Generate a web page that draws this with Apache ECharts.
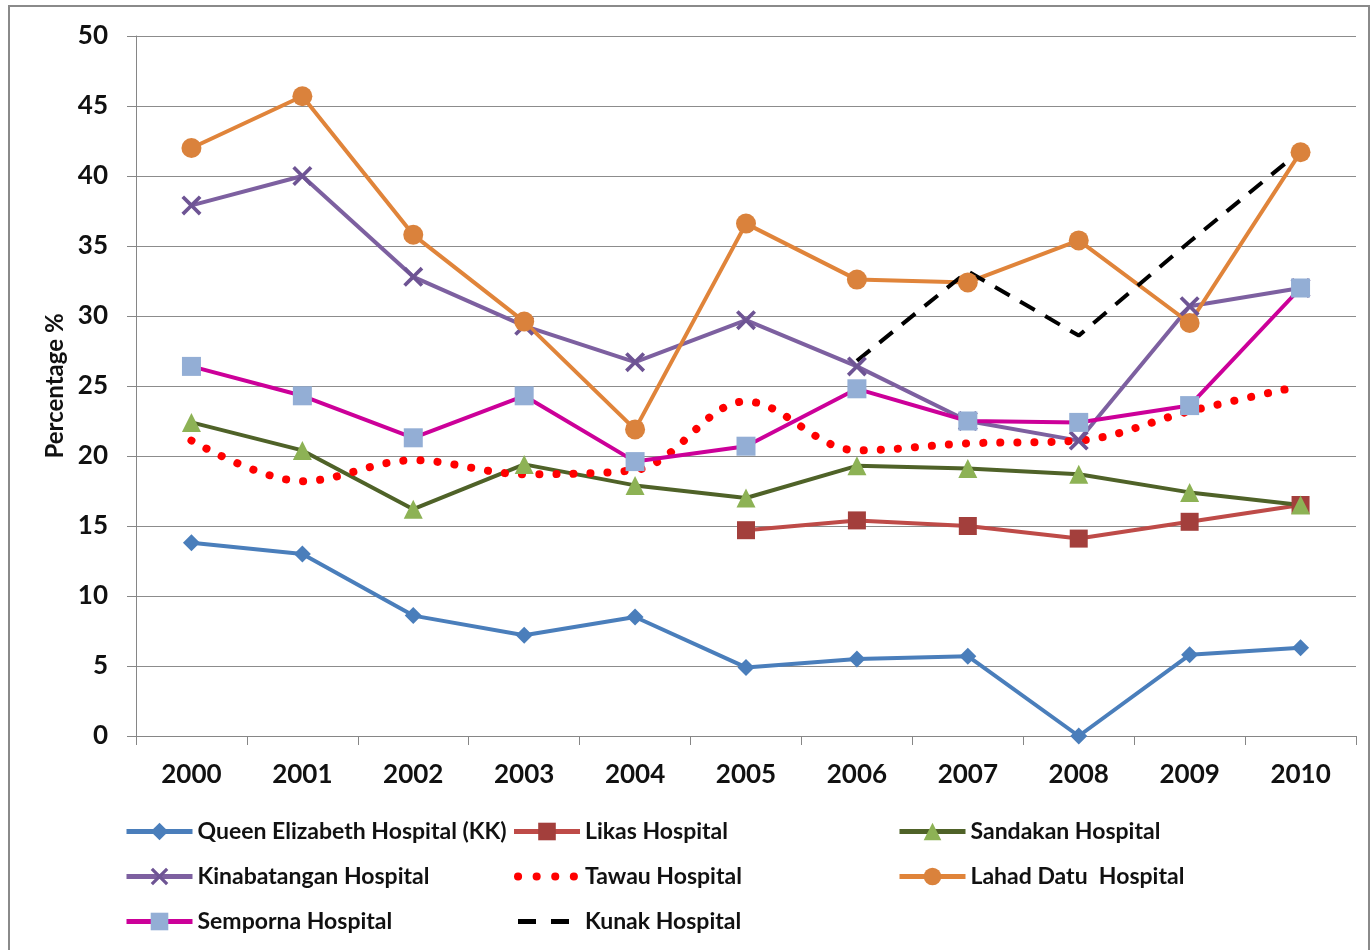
<!DOCTYPE html>
<html>
<head>
<meta charset="utf-8">
<title>Hospital percentage 2000-2010</title>
<script src="https://cdn.jsdelivr.net/npm/echarts@6/dist/echarts.min.js"></script>
<style>
  html, body { margin: 0; padding: 0; background: #fff; }
  #chart { width: 1372px; height: 950px; }
</style>
</head>
<body>
<div id="chart"></div>
<script>
const years = ['2000', '2001', '2002', '2003', '2004', '2005', '2006', '2007', '2008', '2009', '2010']

const queenElizabeth = [13.8, 13.0, 8.6, 7.2, 8.5, 4.9, 5.5, 5.7, 0.0, 5.8, 6.3]
const likas = [null, null, null, null, null, 14.7, 15.4, 15.0, 14.1, 15.3, 16.5]
const sandakan = [22.4, 20.4, 16.2, 19.4, 17.9, 17.0, 19.3, 19.1, 18.7, 17.4, 16.5]
const kinabatangan = [37.9, 40.0, 32.8, 29.3, 26.7, 29.7, 26.4, 22.5, 21.1, 30.7, 32.0]
const tawau = [21.1, 18.2, 19.7, 18.7, 19.0, 23.9, 20.4, 20.9, 21.1, 23.2, 25.0]
const lahadDatu = [42.0, 45.7, 35.8, 29.6, 21.9, 36.6, 32.6, 32.4, 35.4, 29.5, 41.7]
const semporna = [26.4, 24.3, 21.3, 24.3, 19.6, 20.7, 24.8, 22.5, 22.4, 23.6, 32.0]
const kunak = [null, null, null, null, null, null, 26.8, 33.2, 28.6, 35.3, 41.8]

const crossPath = 'path://M0,1.3L1.3,0L5,3.7L8.7,0L10,1.3L6.3,5L10,8.7L8.7,10L5,6.3L1.3,10L0,8.7L3.7,5Z'
const font = 'Lato, "DejaVu Sans", sans-serif'

const chart = echarts.init(document.getElementById('chart'))

const mkSeries = (name, data, opts) => ({
  name,
  type: 'line',
  data,
  connectNulls: false,
  symbolSize: opts.size || 18,
  symbol: opts.symbol,
  showSymbol: opts.symbol !== 'none',
  smooth: opts.smooth || false,
  lineStyle: {
    color: opts.line,
    width: opts.width || 4,
    type: opts.type || 'solid',
    cap: opts.cap || 'butt',
  },
  itemStyle: { color: opts.marker || opts.line, borderWidth: 0 },
  emphasis: { disabled: true },
  animation: false,
})

const legendText = { fontFamily: font, fontWeight: 'bold', fontSize: 23, color: '#111' }
const legendBase = {
  orient: 'vertical',
  top: 820,
  padding: 0,
  itemWidth: 66,
  itemHeight: 22,
  itemGap: 22,
  textStyle: legendText,
  lineStyle: { width: 5 },
  selectedMode: false,
}

const option = {
  backgroundColor: '#fff',
  animation: false,
  graphic: [
    {
      type: 'rect',
      shape: { x: 9, y: 6, width: 1360, height: 980 },
      style: { fill: 'none', stroke: '#8a8a8a', lineWidth: 2 },
      silent: true,
    },
  ],
  grid: { left: 136, right: 16, top: 36, bottom: 214 },
  legend: [
    { ...legendBase, left: 124, data: ['Queen Elizabeth Hospital (KK)', 'Kinabatangan Hospital', 'Semporna Hospital'] },
    {
      ...legendBase,
      left: 510,
      data: [
        'Likas Hospital',
        {
          name: 'Tawau Hospital',
          itemStyle: { opacity: 0 },
          lineStyle: { width: 8, type: [0.1, 18.5], cap: 'round', dashOffset: -4 },
        },
        {
          name: 'Kunak Hospital',
          itemStyle: { opacity: 0 },
          lineStyle: { width: 5, type: [18, 15] },
        },
      ],
    },
    { ...legendBase, left: 897, data: ['Sandakan Hospital', 'Lahad Datu  Hospital'] },
  ],
  xAxis: {
    type: 'category',
    data: years,
    boundaryGap: true,
    axisLine: { lineStyle: { color: '#868686', width: 1 } },
    axisTick: { show: true, length: 9, lineStyle: { color: '#868686' } },
    axisLabel: { fontFamily: font, fontWeight: 'bold', fontSize: 26, color: '#111', margin: 26 },
  },
  yAxis: {
    type: 'value',
    min: 0,
    max: 50,
    interval: 5,
    name: 'Percentage %',
    nameLocation: 'middle',
    nameGap: 67,
    nameTextStyle: { fontFamily: font, fontWeight: 'bold', fontSize: 24, color: '#111' },
    axisLine: { show: true, lineStyle: { color: '#868686', width: 1 } },
    axisTick: { show: true, length: 9, lineStyle: { color: '#868686' } },
    axisLabel: { fontFamily: font, fontWeight: 'bold', fontSize: 26, color: '#111', margin: 28 },
    splitLine: { show: true, lineStyle: { color: '#8c8c8c', width: 1 } },
  },
  series: [
    mkSeries('Queen Elizabeth Hospital (KK)', queenElizabeth, { line: '#4A7EBB', marker: '#4A7EBB', symbol: 'diamond', size: 17 }),
    mkSeries('Likas Hospital', likas, { line: '#BE4B48', marker: '#A33F3C', symbol: 'rect', size: 18 }),
    mkSeries('Sandakan Hospital', sandakan, { line: '#4F6228', marker: '#8DB255', symbol: 'triangle', size: 19 }),
    mkSeries('Kinabatangan Hospital', kinabatangan, { line: '#7D60A0', marker: '#6E5494', symbol: crossPath, size: 20 }),
    mkSeries('Tawau Hospital', tawau, { line: '#FF0000', symbol: 'none', width: 8, type: [0.1, 17], cap: 'round', smooth: 0.35 }),
    mkSeries('Lahad Datu  Hospital', lahadDatu, { line: '#E0843A', marker: '#DA823C', symbol: 'circle', size: 20 }),
    mkSeries('Semporna Hospital', semporna, { line: '#CC0099', marker: '#93AED5', symbol: 'rect', size: 19 }),
    mkSeries('Kunak Hospital', kunak, { line: '#000000', symbol: 'none', width: 4, type: [17, 12] }),
  ],
}

chart.setOption(option)
</script>
</body>
</html>
